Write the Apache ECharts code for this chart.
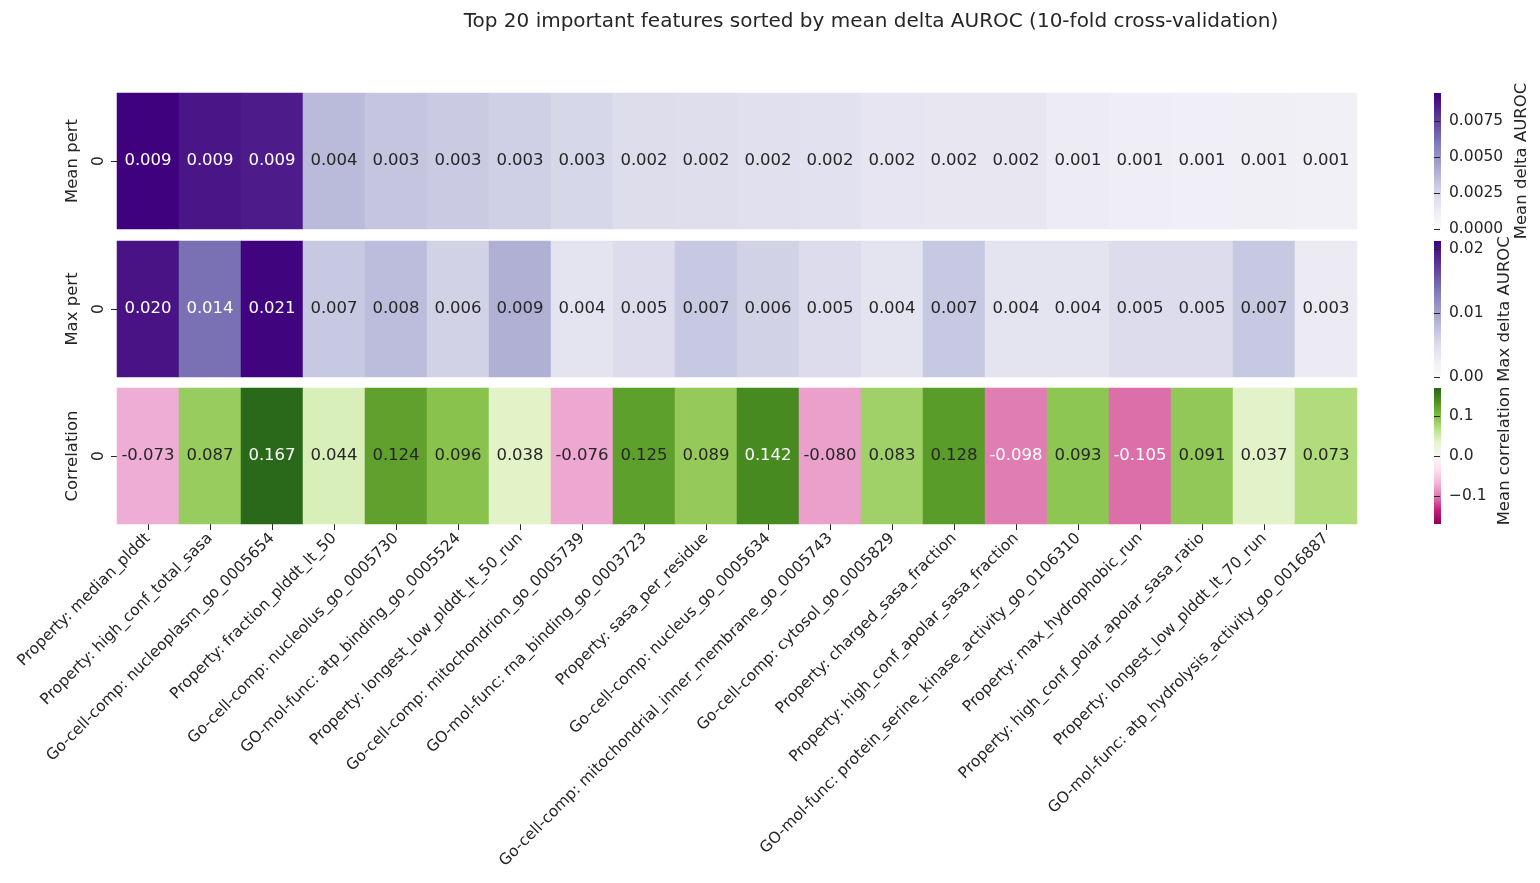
<!DOCTYPE html>
<html>
<head>
<meta charset="utf-8">
<script src="https://cdn.jsdelivr.net/npm/echarts@6/dist/echarts.min.js"></script>
<style>html,body{margin:0;padding:0;background:#fff}#chart{width:1540px;height:883px}</style>
</head>
<body>
<div id="chart"></div>
<script>
const features = [
  'Property: median_plddt', 'Property: high_conf_total_sasa', 'Go-cell-comp: nucleoplasm_go_0005654',
  'Property: fraction_plddt_lt_50', 'Go-cell-comp: nucleolus_go_0005730', 'GO-mol-func: atp_binding_go_0005524',
  'Property: longest_low_plddt_lt_50_run', 'Go-cell-comp: mitochondrion_go_0005739', 'GO-mol-func: rna_binding_go_0003723',
  'Property: sasa_per_residue', 'Go-cell-comp: nucleus_go_0005634', 'Go-cell-comp: mitochondrial_inner_membrane_go_0005743',
  'Go-cell-comp: cytosol_go_0005829', 'Property: charged_sasa_fraction', 'Property: high_conf_apolar_sasa_fraction',
  'GO-mol-func: protein_serine_kinase_activity_go_0106310', 'Property: max_hydrophobic_run',
  'Property: high_conf_polar_apolar_sasa_ratio', 'Property: longest_low_plddt_lt_70_run', 'GO-mol-func: atp_hydrolysis_activity_go_0016887'
];
const meanPert = [0.0094, 0.0088, 0.0086, 0.0036, 0.0032, 0.0030, 0.0028, 0.0025, 0.0022, 0.0021,
  0.0020, 0.0019, 0.0017, 0.0016, 0.0016, 0.0013, 0.0012, 0.0011, 0.0010, 0.0009];
const maxPert = [0.020, 0.014, 0.021, 0.007, 0.008, 0.006, 0.009, 0.004, 0.005, 0.007,
  0.006, 0.005, 0.004, 0.007, 0.004, 0.004, 0.005, 0.005, 0.007, 0.003];
const correlation = [-0.073, 0.087, 0.167, 0.044, 0.124, 0.096, 0.038, -0.076, 0.125, 0.089,
  0.142, -0.080, 0.083, 0.128, -0.098, 0.093, -0.105, 0.091, 0.037, 0.073];
const meanTicks = [0, 0.0025, 0.005, 0.0075];
const maxTicks = [0, 0.01, 0.02];
const corrTicks = [-0.1, 0, 0.1];

const purples = ['#fcfbfd', '#efedf5', '#dadaeb', '#bcbddc', '#9e9ac8', '#807dba', '#6a51a3', '#54278f', '#3f007d'];
const piyg = ['#8e0152', '#c51b7d', '#de77ae', '#f1b6da', '#fde0ef', '#f7f7f7', '#e6f5d0', '#b8e186', '#7fbc41', '#4d9221', '#276419'];

const rows = [
  { name: 'Mean pert', data: meanPert, min: 0, max: 0.00944, colors: purples, bar: 'Mean delta AUROC', ticks: meanTicks, dec: 4, top: 93 },
  { name: 'Max pert', data: maxPert, min: 0, max: 0.02125, colors: purples, bar: 'Max delta AUROC', ticks: maxTicks, dec: 2, top: 241 },
  { name: 'Correlation', data: correlation, min: -0.17, max: 0.17, colors: piyg, bar: 'Mean correlation', ticks: corrTicks, dec: 1, top: 388 }
];
const H = 136, txt = '#262626', font = 'DejaVu Sans';

const grids = [], xAxes = [], yAxes = [], series = [], visualMaps = [], graphics = [];
rows.forEach((r, i) => {
  const hg = grids.length;
  grids.push({ left: 117, width: 1240, top: r.top, height: H });
  xAxes.push({
    type: 'category', gridIndex: hg, data: features,
    axisLine: { show: false }, splitLine: { show: false },
    axisTick: { show: i === 2, length: 6, alignWithLabel: true, lineStyle: { color: txt } },
    axisLabel: { show: i === 2, rotate: 45, color: txt, fontSize: 15.5, fontFamily: font, margin: 12 }
  });
  yAxes.push({
    type: 'category', gridIndex: hg, data: ['0'], name: r.name, nameLocation: 'middle', nameRotate: 90, nameGap: 36,
    nameTextStyle: { color: txt, fontSize: 16.5, fontFamily: font },
    axisLine: { show: false }, splitLine: { show: false },
    axisTick: { show: true, length: 6, alignWithLabel: true, lineStyle: { color: txt } },
    axisLabel: { color: txt, fontSize: 15.5, fontFamily: font, rotate: 90, margin: 10 }
  });
  const sIdx = series.length;
  series.push({
    type: 'heatmap', xAxisIndex: hg, yAxisIndex: hg,
    data: r.data.map((v, j) => {
      const t = (v - r.min) / (r.max - r.min);
      const dark = r.colors === purples ? t > 0.6 : (t > 0.88 || t < 0.24);
      return { value: [j, 0, v], label: { color: dark ? '#fff' : txt } };
    }),
    label: { show: true, fontSize: 16.5, fontFamily: font, formatter: p => p.value[2].toFixed(3) },
    itemStyle: { borderWidth: 0 }
  });
  visualMaps.push({ show: false, type: 'continuous', seriesIndex: sIdx, dimension: 2, min: r.min, max: r.max, inRange: { color: r.colors } });

  // colorbar axis
  const cg = grids.length;
  grids.push({ left: 1434, width: 7, top: r.top, height: H });
  xAxes.push({ type: 'value', gridIndex: cg, show: false, min: 0, max: 1 });
  yAxes.push({
    type: 'value', gridIndex: cg, position: 'right', min: r.min, max: r.max,
    name: r.bar, nameLocation: 'middle', nameRotate: 90, nameGap: i === 0 ? 72 : 55,
    nameTextStyle: { color: txt, fontSize: 16.5, fontFamily: font },
    axisLine: { show: false }, splitLine: { show: false },
    axisTick: { show: true, length: 6, customValues: r.ticks, lineStyle: { color: txt } },
    axisLabel: {
      color: txt, fontSize: 15.5, fontFamily: font, margin: 8, customValues: r.ticks,
      formatter: v => v < 0 ? '\u2212' + Math.abs(v).toFixed(r.dec) : v.toFixed(r.dec)
    }
  });
  graphics.push({
    type: 'rect', shape: { x: 1434, y: r.top, width: 7, height: H }, silent: true,
    style: {
      fill: new echarts.graphic.LinearGradient(0, 1, 0, 0,
        r.colors.map((c, k) => ({ offset: k / (r.colors.length - 1), color: c })))
    }
  });
});

const chart = echarts.init(document.getElementById('chart'));
chart.setOption({
  backgroundColor: '#fff',
  animation: false,
  title: {
    text: 'Top 20 important features sorted by mean delta AUROC (10-fold cross-validation)',
    left: 866, top: 7, textAlign: 'center',
    textStyle: { color: txt, fontSize: 20, fontWeight: 'normal', fontFamily: font }
  },
  grid: grids, xAxis: xAxes, yAxis: yAxes, visualMap: visualMaps, series: series, graphic: graphics
});
</script>
</body>
</html>
